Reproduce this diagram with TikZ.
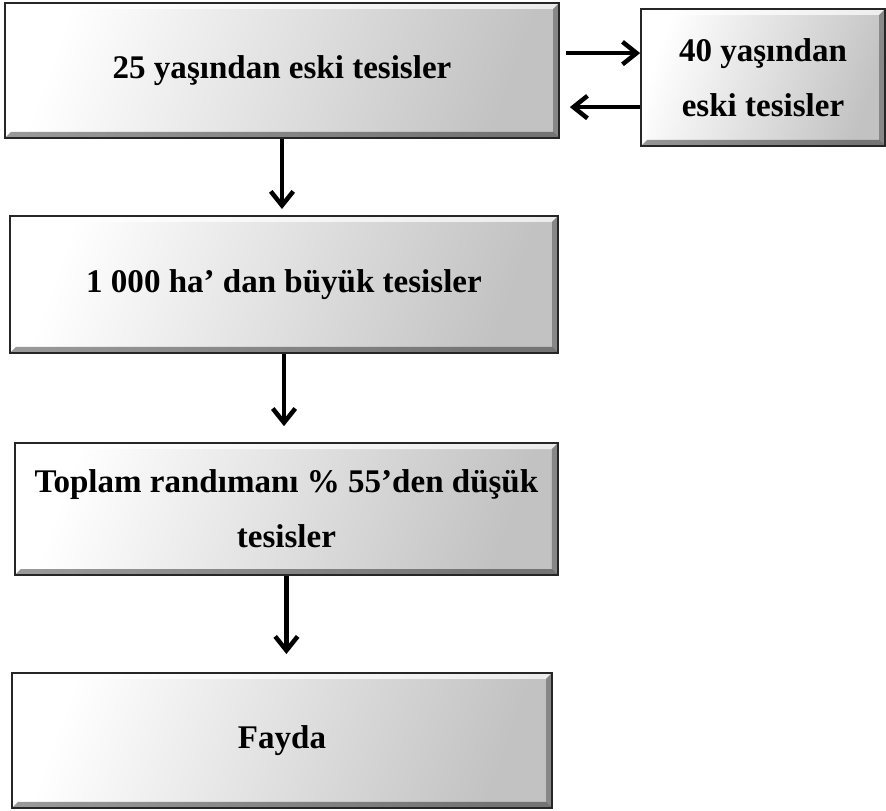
\documentclass[tikz,border=0pt]{standalone}
\usepackage{fontspec}
\setmainfont{Liberation Serif}
\usetikzlibrary{arrows.meta,calc}

\begin{document}
\begin{tikzpicture}[every node/.style={font=\fontsize{23.5}{39}\selectfont\bfseries},
    kutu/.style={draw=black!85, line width=1.2pt, align=center,
      left color=white, right color=black!24, shading angle=70,
      path picture={
        \path (path picture bounding box.north west) coordinate (nw)
              (path picture bounding box.south east) coordinate (se);
        \fill[white,opacity=.7] (nw) -- (nw -| se) -- ++(-0.15,-0.15) -- ($(nw)+(0.15,-0.15)$) -- cycle;
        \fill[white,opacity=.5] (nw) -- ($(nw)+(0.15,-0.15)$) -- ($(nw |- se)+(0.15,0.15)$) -- (nw |- se) -- cycle;
        \fill[black,opacity=.4] (nw |- se) -- (se) -- ++(-0.15,0.15) -- ($(nw |- se)+(0.15,0.15)$) -- cycle;
        \fill[black,opacity=.3] (se) -- (nw -| se) -- ++(-0.15,-0.15) -- ($(se)+(-0.15,0.15)$) -- cycle;
      }},
    ok/.style={line width=3.2pt, -{Straight Barb[length=10pt,width=16pt]}}]
    \useasboundingbox (0,0) rectangle (22.15,-20.275);
    \node[kutu, minimum width=13.85cm, minimum height=3.375cm] (yas25) at (7.05,-1.7625) {25 yaşından eski tesisler};
    \node[kutu, minimum width=6.1cm, minimum height=3.425cm] (yas40) at (19.075,-1.9375) {40 yaşından\\eski tesisler};
    \node[kutu, minimum width=13.7cm, minimum height=3.425cm] (alan) at (7.1,-7.11) {1 000 ha’ dan büyük tesisler};
    \node[kutu, minimum width=13.575cm, minimum height=3.3cm] (randiman) at (7.16,-12.725) {Toplam randımanı \% 55’den düşük\\tesisler};
    \node[kutu, minimum width=13.5cm, minimum height=3.375cm] (fayda) at (7.05,-18.51) {Fayda};
    \draw[ok] ($(yas25.east |- yas40.west)+(0.15,0.61)$) -- ($(yas40.west)+(0,0.61)$);
    \draw[ok] ($(yas40.west)+(0,-0.74)$) -- ($(yas25.east |- yas40.west)+(0.25,-0.74)$);
    \draw[ok, shorten >=0.15cm] (yas25.south) -- (yas25.south |- alan.north);
    \draw[ok, shorten >=0.4cm] (alan.south) -- (alan.south |- randiman.north);
    \draw[ok, shorten >=0.45cm] (randiman.south) -- (randiman.south |- fayda.north);
\end{tikzpicture}
\end{document}
